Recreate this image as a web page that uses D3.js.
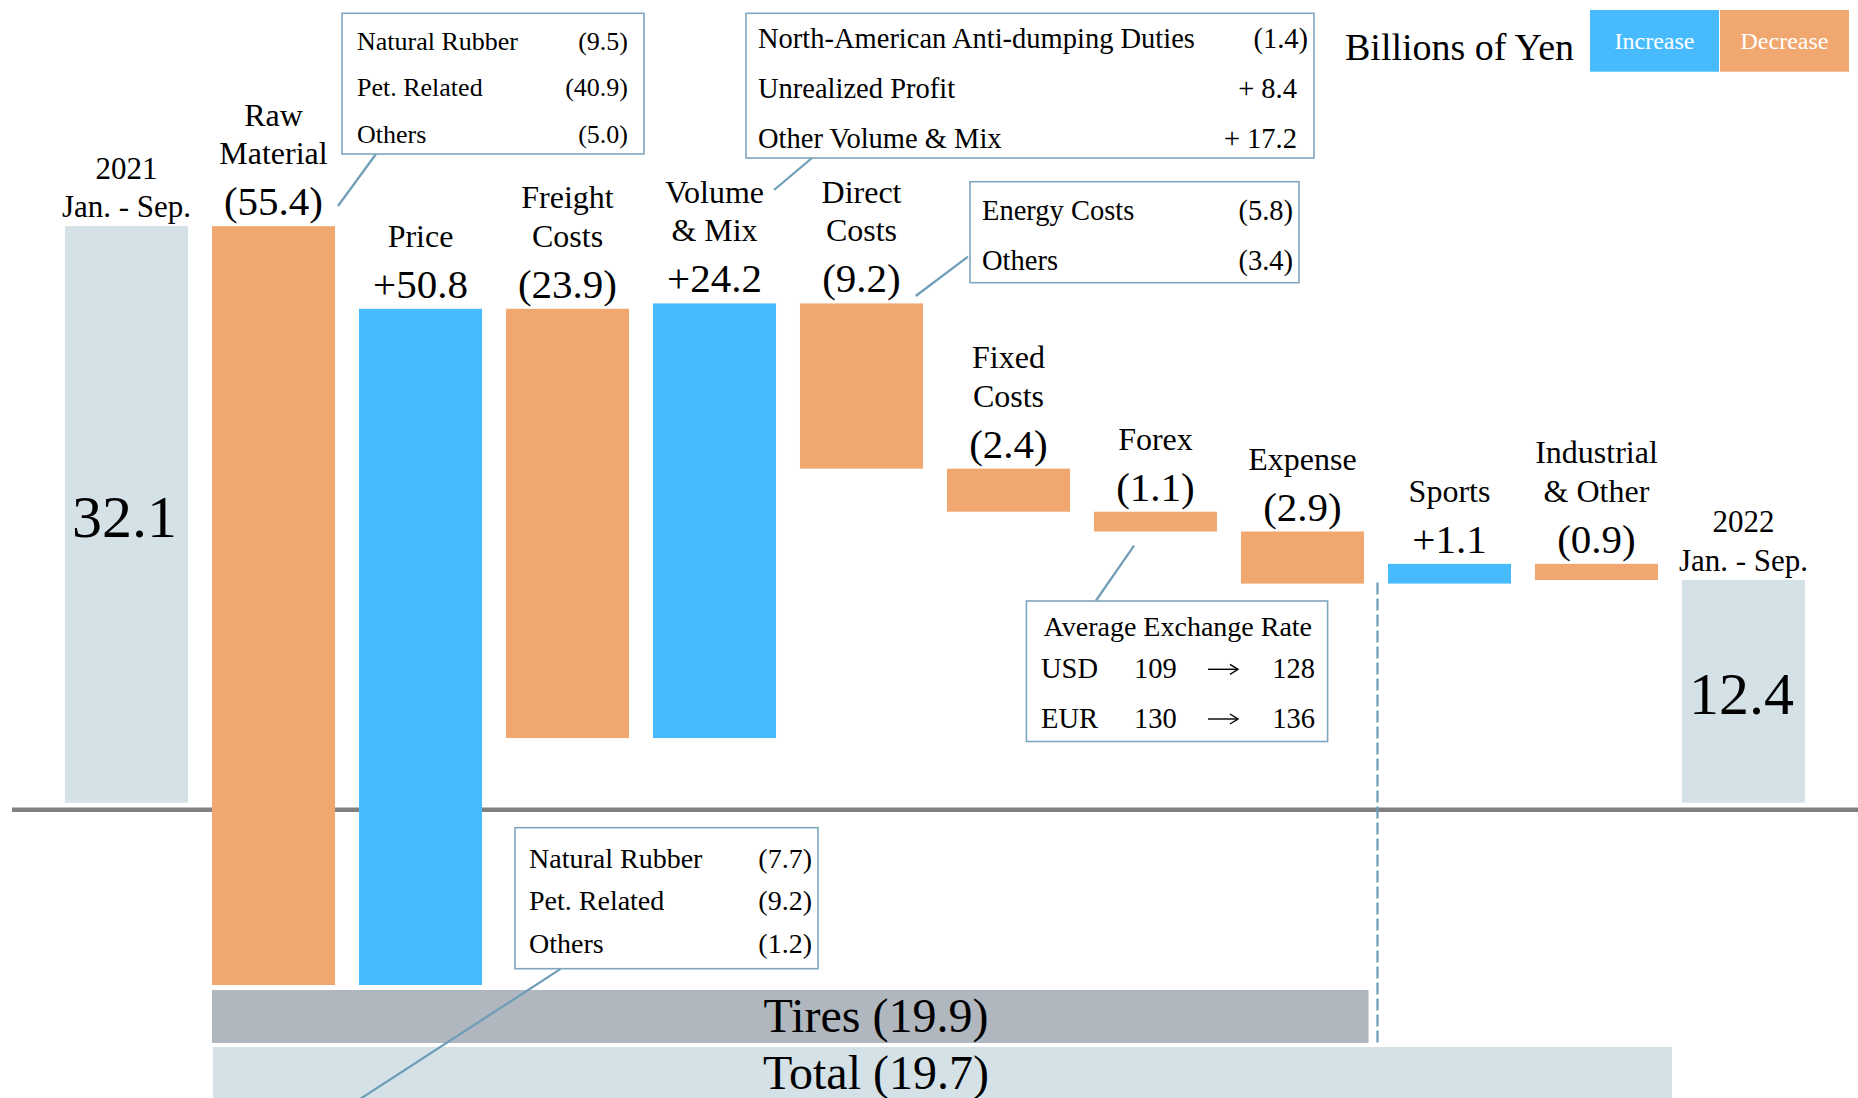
<!DOCTYPE html>
<html>
<head>
<meta charset="utf-8">
<script src="https://cdn.jsdelivr.net/npm/d3@7"></script>
<style>
  html, body { margin: 0; padding: 0; background: #ffffff; overflow: hidden; }
  svg { display: block; }
  text { font-family: "Times New Roman", "Liberation Serif", serif; fill: #000; }
</style>
</head>
<body>
<svg id="chart" width="1858" height="1098"></svg>
<script>
// ---------------- DATA ----------------
const categories = ["2021", "Raw Material", "Price", "Freight Costs", "Volume & Mix", "Direct Costs",
  "Fixed Costs", "Forex", "Expense", "Sports", "Industrial & Other", "2022"];
const categoryLines = [["2021", "Jan. - Sep."], ["Raw", "Material"], ["Price"], ["Freight", "Costs"],
  ["Volume", "& Mix"], ["Direct", "Costs"], ["Fixed", "Costs"], ["Forex"], ["Expense"], ["Sports"],
  ["Industrial", "& Other"], ["2022", "Jan. - Sep."]];
const values = [32.1, -55.4, 50.8, -23.9, 24.2, -9.2, -2.4, -1.1, -2.9, 1.1, -0.9, 12.4];
const kinds = ["total", "delta", "delta", "delta", "delta", "delta", "delta", "delta", "delta", "delta", "delta", "total"];

const segmentNames = ["Tires", "Total"];
const segmentValues = [-19.9, -19.7];

const legendLabels = ["Increase", "Decrease"];
const unitLabel = "Billions of Yen";

const rawMaterialItems = ["Natural Rubber", "Pet. Related", "Others"];
const rawMaterialValues = ["(9.5)", "(40.9)", "(5.0)"];
const volumeItems = ["North-American Anti-dumping Duties", "Unrealized Profit", "Other Volume & Mix"];
const volumeValues = ["(1.4)", "+ 8.4", "+ 17.2"];
const directItems = ["Energy Costs", "Others"];
const directValues = ["(5.8)", "(3.4)"];
const lowerItems = ["Natural Rubber", "Pet. Related", "Others"];
const lowerValues = ["(7.7)", "(9.2)", "(1.2)"];
const forexTitle = "Average Exchange Rate";
const currencies = ["USD", "EUR"];
const ratesFrom = ["109", "130"];
const ratesTo = ["128", "136"];

// ---------------- STYLE ----------------
const C_INC = "#48BBFF", C_DEC = "#F1A770", C_TOT = "#D4E1E7", C_TIRES = "#B0B7BF";
const C_AXIS = "#808080", C_CALLOUT = "#7FA6BF", C_LEADER = "#6E9DB8";

const svg = d3.select("#chart");

// scales
const x = d3.scaleBand().domain(categories).range([65, 1805]).paddingInner(0.163).paddingOuter(0);
const y = d3.scaleLinear().domain([0, 40]).range([802.7, 802.7 - 40 * 17.96]);
const clipBottom = 985;

// waterfall computation
let run = 0;
const bars = categories.map((c, i) => {
  let start, end;
  if (kinds[i] === "total") { start = 0; end = values[i]; run = values[i]; }
  else { start = run; end = run + values[i]; run = end; }
  return { cat: c, i, start, end, v: values[i], kind: kinds[i] };
});

// axis line (behind bars)
svg.append("line")
  .attr("x1", 12).attr("x2", 1858)
  .attr("y1", y(0) + 7).attr("y2", y(0) + 7)
  .attr("stroke", C_AXIS).attr("stroke-width", 4.6);

// bars
svg.selectAll("rect.bar").data(bars).enter().append("rect")
  .attr("class", "bar")
  .attr("x", d => x(d.cat))
  .attr("width", x.bandwidth())
  .attr("y", d => y(Math.max(d.start, d.end)))
  .attr("height", d => Math.min(clipBottom, y(Math.min(d.start, d.end))) - y(Math.max(d.start, d.end)))
  .attr("fill", d => d.kind === "total" ? C_TOT : (d.v >= 0 ? C_INC : C_DEC));

// labels
const fmt = v => v < 0 ? "(" + Math.abs(v).toFixed(1) + ")" : "+" + v.toFixed(1);
bars.forEach(d => {
  const cx = x(d.cat) + x.bandwidth() / 2;
  const top = y(Math.max(d.start, d.end));
  const lines = categoryLines[d.i];
  if (d.kind === "total") {
    lines.forEach((l, k) => {
      svg.append("text").attr("x", cx).attr("y", top - 9 - (lines.length - 1 - k) * 38.5)
        .attr("text-anchor", "middle").attr("font-size", 31).text(l);
    });
    svg.append("text").attr("x", cx - 2).attr("y", (top + y(0)) / 2 + 23)
      .attr("text-anchor", "middle").attr("font-size", 60).text(d.v.toFixed(1));
  } else {
    const vb = top - 11;
    svg.append("text").attr("x", cx).attr("y", vb)
      .attr("text-anchor", "middle").attr("font-size", 41).text(fmt(d.v));
    lines.forEach((l, k) => {
      svg.append("text").attr("x", cx).attr("y", vb - 51 - (lines.length - 1 - k) * 38.5)
        .attr("text-anchor", "middle").attr("font-size", 32).text(l);
    });
  }
});

// dashed divider between tires and other businesses
const divX = x("Sports") - (x.step() - x.bandwidth()) / 2 + 1.5;
svg.append("line")
  .attr("x1", divX).attr("x2", divX)
  .attr("y1", y(bars[8].end) - 1).attr("y2", 1043)
  .attr("stroke", C_LEADER).attr("stroke-width", 2.2).attr("stroke-dasharray", "12,4");

// segment bars (Tires, Total)
const segX0 = x("Raw Material");
const segX1 = [x("Expense") + x.bandwidth() + 4.5, x("2022") - 10];
const segY = [990, 1047];
const segColors = [C_TIRES, C_TOT];
segmentNames.forEach((n, k) => {
  svg.append("rect").attr("x", segX0 + k).attr("y", segY[k])
    .attr("width", segX1[k] - segX0 - k).attr("height", 53).attr("fill", segColors[k]);
  svg.append("text").attr("x", 876).attr("y", segY[k] + 42)
    .attr("text-anchor", "middle").attr("font-size", 48)
    .text(n + " (" + Math.abs(segmentValues[k]).toFixed(1) + ")");
});

// callouts
function callout(o) {
  const g = svg.append("g");
  g.append("line").attr("x1", o.lead[0]).attr("y1", o.lead[1]).attr("x2", o.lead[2]).attr("y2", o.lead[3])
    .attr("stroke", C_LEADER).attr("stroke-width", 2.2);
  g.append("rect").attr("x", o.x0).attr("y", o.y0).attr("width", o.x1 - o.x0).attr("height", o.y1 - o.y0)
    .attr("fill", "#fff").attr("stroke", C_CALLOUT).attr("stroke-width", 1.6);
  o.items.forEach((t, k) => {
    const by = o.base + k * o.gap;
    g.append("text").attr("x", o.tx).attr("y", by).attr("font-size", o.fs).text(t);
    const v = o.vals[k];
    const vx = v.endsWith(")") ? o.vx : o.vx - 11;
    g.append("text").attr("x", vx).attr("y", by).attr("text-anchor", "end").attr("font-size", o.fs).text(v);
  });
}
callout({ x0: 342, y0: 13.3, x1: 644, y1: 154, lead: [376, 154, 338, 206], items: rawMaterialItems,
  vals: rawMaterialValues, base: 50, gap: 46.3, fs: 26, tx: 357, vx: 628 });
callout({ x0: 746, y0: 13.3, x1: 1314, y1: 158, lead: [812, 158, 774, 190], items: volumeItems,
  vals: volumeValues, base: 48.3, gap: 50, fs: 28.5, tx: 758, vx: 1308 });
callout({ x0: 970, y0: 181.7, x1: 1299, y1: 282.7, lead: [968, 256.7, 915.7, 296], items: directItems,
  vals: directValues, base: 220, gap: 50, fs: 28.5, tx: 982, vx: 1293 });
callout({ x0: 515, y0: 827.7, x1: 818, y1: 968.7, lead: [561, 968.7, 340, 1112], items: lowerItems,
  vals: lowerValues, base: 868, gap: 42.3, fs: 28, tx: 529, vx: 812 });

// forex callout
(function () {
  const g = svg.append("g");
  g.append("line").attr("x1", 1134).attr("y1", 545.6).attr("x2", 1095.7).attr("y2", 601)
    .attr("stroke", C_LEADER).attr("stroke-width", 2.2);
  g.append("rect").attr("x", 1026.4).attr("y", 601).attr("width", 301.2).attr("height", 140.5)
    .attr("fill", "#fff").attr("stroke", C_CALLOUT).attr("stroke-width", 1.6);
  g.append("text").attr("x", 1043.6).attr("y", 636).attr("font-size", 28).text(forexTitle);
  currencies.forEach((c, k) => {
    const by = 678.3 + k * 49.7;
    g.append("text").attr("x", 1041).attr("y", by).attr("font-size", 28.5).text(c);
    g.append("text").attr("x", 1134).attr("y", by).attr("font-size", 28.5).text(ratesFrom[k]);
    const ay = by - 9;
    g.append("line").attr("x1", 1208).attr("x2", 1237).attr("y1", ay).attr("y2", ay)
      .attr("stroke", "#000").attr("stroke-width", 1.4);
    g.append("path").attr("d", `M1230,${ay - 5} L1238,${ay} L1230,${ay + 5}`)
      .attr("fill", "none").attr("stroke", "#000").attr("stroke-width", 1.4);
    g.append("text").attr("x", 1315).attr("y", by).attr("text-anchor", "end").attr("font-size", 28.5).text(ratesTo[k]);
  });
})();

// unit title and legend
svg.append("text").attr("x", 1345).attr("y", 60).attr("font-size", 38).text(unitLabel);
const legX = [1590, 1720], legColors = [C_INC, C_DEC];
legendLabels.forEach((l, k) => {
  svg.append("rect").attr("x", legX[k]).attr("y", 10).attr("width", 129).attr("height", 61.7).attr("fill", legColors[k]);
  svg.append("text").attr("x", legX[k] + 64.5).attr("y", 49.3).attr("text-anchor", "middle")
    .attr("font-size", 24).style("fill", "#fff").text(l);
});
</script>
</body>
</html>
